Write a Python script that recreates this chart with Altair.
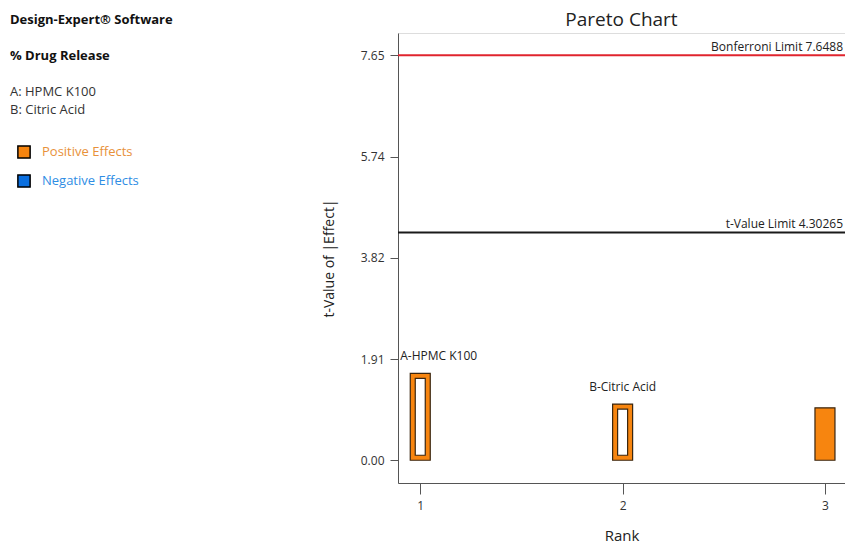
import altair as alt
import pandas as pd

# ---- data ----
ranks = [1, 2, 3]
term_labels = ["A-HPMC K100", "B-Citric Acid", ""]
t_values = [1.64, 1.06, 0.99]
in_model = [True, True, False]
effect_signs = ["Positive Effects", "Positive Effects", "Positive Effects"]

legend_domain = ["Positive Effects", "Negative Effects"]
legend_colors = ["#F7850F", "#0A6FE0"]

limit_names = ["Bonferroni Limit", "t-Value Limit"]
limit_values = [7.6488, 4.30265]

y_ticks = [0.0, 1.9122, 3.8244, 5.7366, 7.6488]
x_ticks = [1, 2, 3]

chart_title = "Pareto Chart"
header_lines = ["Design-Expert® Software", "% Drug Release", "A: HPMC K100", "B: Citric Acid"]

# ---- chart ----
W, H = 447, 450
PAD_L, PAD_T = 398, 33
FONT = "Open Sans"
EDGE = "#3a2610"

bars_df = pd.DataFrame({"rank": ranks, "term": term_labels, "t": t_values,
                        "in_model": in_model, "sign": effect_signs})
limits_df = pd.DataFrame({"name": limit_names, "value": limit_values})

xs = alt.Scale(domain=[0.89, 3.099], nice=False, zero=False, padding=0)
ys = alt.Scale(domain=[-0.43, 8.07], nice=False, zero=False, padding=0)

x_enc = alt.X("rank:Q", scale=xs, axis=alt.Axis(
    values=x_ticks, format="d", title="Rank", grid=False, tickSize=11,
    labelPadding=6, titlePadding=17, labelFontSize=12, titleFontSize=15,
    titleFontWeight="normal", labelColor="#333", titleColor="#222",
    labelFont=FONT, titleFont=FONT, domainColor="#555", tickColor="#555"))
y_enc = alt.Y("t:Q", scale=ys, axis=alt.Axis(
    values=y_ticks, format=".2f", title="t-Value of |Effect|", grid=False,
    tickSize=8, labelPadding=6, titlePadding=24, labelFontSize=12,
    titleFontSize=14, titleFontWeight="normal", labelColor="#333",
    titleColor="#222", labelFont=FONT, titleFont=FONT,
    domainColor="#555", tickColor="#555"))

base = alt.Chart(bars_df)

outer = base.mark_bar(size=20, stroke=EDGE, strokeWidth=1.2).encode(
    x=x_enc, y=y_enc, y2=alt.datum(0),
    color=alt.Color("sign:N", scale=alt.Scale(domain=legend_domain, range=legend_colors),
                    legend=alt.Legend(
                        orient="none", legendX=17 - PAD_L, legendY=112,
                        title=None, symbolType="square", symbolSize=150,
                        symbolStrokeColor="black", symbolStrokeWidth=1.5,
                        labelFont=FONT, labelFontSize=13, labelOffset=11,
                        rowPadding=9, padding=0,
                        labelColor={"expr": "datum.label == 'Positive Effects' ? '#E8913A' : '#2F8DE4'"})))

inner = base.transform_filter("datum.in_model").mark_bar(
    size=10, yOffset=5, y2Offset=-5, fill="white", stroke=EDGE, strokeWidth=1.2
).encode(x="rank:Q", y="t:Q", y2=alt.datum(0))

label_first = base.transform_filter("datum.rank == 1").mark_text(
    align="left", baseline="middle", dx=-20, dy=-17, fontSize=12, font=FONT, color="#222"
).encode(x="rank:Q", y="t:Q", text="term:N")
label_rest = base.transform_filter("datum.rank != 1").mark_text(
    align="center", baseline="middle", dy=-17, fontSize=12, font=FONT, color="#222"
).encode(x="rank:Q", y="t:Q", text="term:N")

lim = alt.Chart(limits_df).transform_calculate(label="datum.name + ' ' + datum.value")
bonf_rule = lim.transform_filter("datum.name == 'Bonferroni Limit'").mark_rule(
    color="#E0242E", strokeWidth=2).encode(y="value:Q")
t_rule = lim.transform_filter("datum.name == 't-Value Limit'").mark_rule(
    color="#1A1A1A", strokeWidth=2).encode(y="value:Q")
lim_text = lim.mark_text(align="right", baseline="middle", dy=-8, fontSize=12,
                         font=FONT, color="#222").encode(
    x=alt.value(W - 2), y="value:Q", text="label:N")

title_mark = alt.Chart(pd.DataFrame({"line": [chart_title]})).mark_text(
    align="center", baseline="alphabetic", fontSize=19, font=FONT, color="#222"
).encode(x=alt.value(W / 2), y=alt.value(-7), text="line:N")

header_y = [20, 56, 92, 110]
header_bold = [True, True, False, False]
headers = []
for line, yy, bold in zip(header_lines, header_y, header_bold):
    headers.append(
        alt.Chart(pd.DataFrame({"line": [line]})).mark_text(
            align="left", baseline="middle", fontSize=13, font=FONT,
            fontWeight="bold" if bold else "normal",
            color="#111" if bold else "#333"
        ).encode(x=alt.value(10 - PAD_L), y=alt.value(yy - PAD_T), text="line:N")
    )

chart = alt.layer(bonf_rule, t_rule, lim_text, outer, inner, label_first, label_rest,
                  title_mark, *headers).properties(
    width=W, height=H,
    autosize=alt.AutoSizeParams(type="none"),
    padding={"left": PAD_L, "top": PAD_T, "right": 0, "bottom": 544 - PAD_T - H},
).configure_view(stroke="#666", strokeWidth=1).configure(background="white")

chart.save("out.html", embed_options={"renderer": "svg", "actions": False})
